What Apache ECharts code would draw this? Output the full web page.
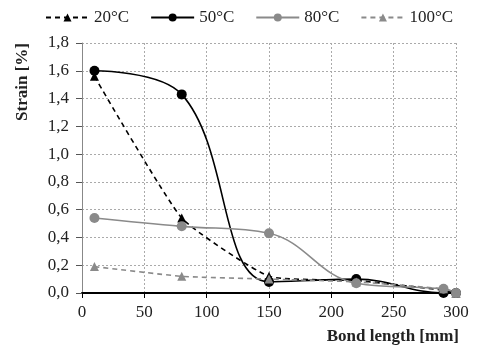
<!DOCTYPE html>
<html>
<head>
<meta charset="utf-8">
<script src="https://cdn.jsdelivr.net/npm/echarts@6/dist/echarts.min.js"></script>
<style>
  html, body { margin: 0; padding: 0; background: #fff; }
  #chart { width: 477px; height: 352px; }
</style>
</head>
<body>
<div id="chart"></div>
<script>
// bond length positions [mm]
const bondLength = [10, 80, 150, 220, 290, 300];
// strain [%] per temperature
const strain20 = [1.56, 0.54, 0.12, 0.09, 0.02, 0.0];
const strain50 = [1.60, 1.43, 0.08, 0.10, 0.0, 0.0];
const strain80 = [0.54, 0.48, 0.43, 0.07, 0.03, 0.0];
const strain100 = [0.19, 0.12, 0.10, 0.08, 0.03, 0.0];

const seriesNames = ["20°C", "50°C", "80°C", "100°C"];
const xTicks = [0, 50, 100, 150, 200, 250, 300];
const yTicks = [0, 0.2, 0.4, 0.6, 0.8, 1.0, 1.2, 1.4, 1.6, 1.8];

const BLACK = "#000";
const GREY = "#8a8a8a";
const FONT = "Liberation Serif";

const pairs = (ys) => bondLength.map((x, i) => [x, ys[i]]);

function line(name, ys, color, dashed, symbol, smooth) {
	return {
		name,
		type: "line",
		data: pairs(ys),
		smooth,
		symbol,
		symbolSize: symbol === "triangle" ? 9 : 10,
		lineStyle: { color, width: 1.6, type: dashed ? [5, 4] : "solid" },
		itemStyle: { color },
		clip: true,
	};
}

const chart = echarts.init(document.getElementById("chart"));
chart.setOption({
	backgroundColor: "#fff",
	animation: false,
	textStyle: { fontFamily: FONT },
	legend: {
		data: seriesNames,
		top: 4,
		left: 40,
		itemWidth: 43,
		itemHeight: 10,
		itemGap: 21,
		textStyle: { fontFamily: FONT, fontSize: 17, color: "#222" },
	},
	grid: { left: 82, right: 21, top: 43, bottom: 59 },
	xAxis: {
		type: "value",
		min: 0,
		max: 300,
		interval: 50,
		axisLine: { lineStyle: { color: BLACK, width: 2 } },
		axisTick: { show: true, length: 5, lineStyle: { color: BLACK } },
		axisLabel: {
			fontFamily: FONT,
			fontSize: 17,
			color: "#222",
			margin: 11,
			formatter: (v) => (xTicks.includes(v) ? String(v) : ""),
		},
		splitLine: { show: true, lineStyle: { color: "#aaa", type: [2, 2] } },
	},
	yAxis: {
		type: "value",
		min: 0,
		max: 1.8,
		interval: 0.2,
		axisLine: { show: true, lineStyle: { color: "#888", width: 1 } },
		axisTick: { show: true, length: 6, lineStyle: { color: "#555" } },
		axisLabel: {
			fontFamily: FONT,
			fontSize: 17,
			color: "#222",
			margin: 13,
			formatter: (v) => {
				const t = yTicks.find((k) => Math.abs(k - v) < 1e-6);
				return t === undefined ? "" : t.toFixed(1).replace(".", ",");
			},
		},
		splitLine: { show: true, lineStyle: { color: "#aaa", type: [2, 2] } },
	},
	graphic: [
		{
			type: "text",
			left: 14,
			top: 43,
			rotation: Math.PI / 2,
			style: {
				text: "Strain [%]",
				font: `bold 17px "${FONT}"`,
				fill: "#222",
			},
		},
		{
			type: "text",
			right: 18,
			top: 328,
			style: {
				text: "Bond length [mm]",
				font: `bold 17px "${FONT}"`,
				fill: "#222",
			},
		},
	],
	series: [
		line("20°C", strain20, BLACK, true, "triangle", 0.15),
		line("50°C", strain50, BLACK, false, "circle", 0.4),
		line("80°C", strain80, GREY, false, "circle", 0.4),
		line("100°C", strain100, GREY, true, "triangle", 0.15),
	],
});
</script>
</body>
</html>
